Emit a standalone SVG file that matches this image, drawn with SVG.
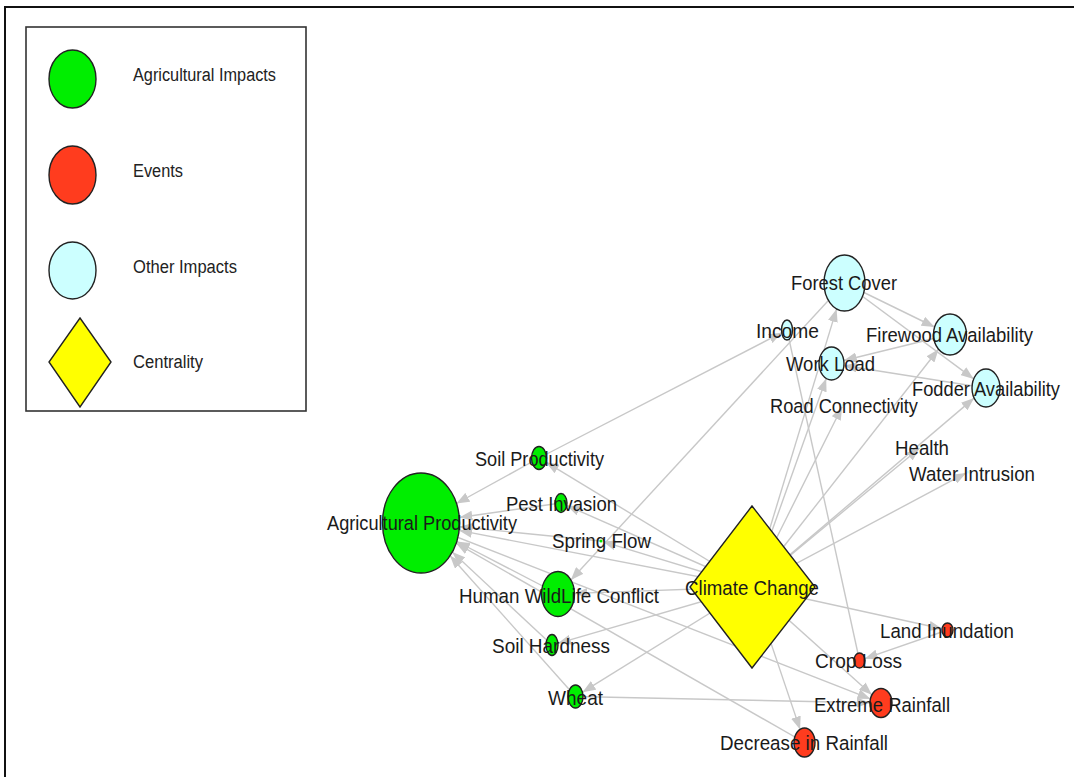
<svg xmlns="http://www.w3.org/2000/svg" width="1074" height="777" viewBox="0 0 1074 777">
<defs>
<style>
.e{stroke:#c8c8c8;stroke-width:1.4;fill:none;marker-end:url(#ah)}
.en{stroke:#c8c8c8;stroke-width:1.4;fill:none}
.n{stroke:#222;stroke-width:1.4}
.ag{fill:#00ee00}
.ev{fill:#ff3c1e}
.ot{fill:#ccffff}
.ce{fill:#ffff00}
.lb{font-family:"Liberation Sans",Arial,sans-serif;font-size:20.5px;fill:#1a1a1a;text-anchor:middle}
.lg{font-family:"Liberation Sans",Arial,sans-serif;font-size:18px;fill:#222}
</style>
<marker id="ah" viewBox="0 0 13 10" refX="13" refY="5" markerWidth="13" markerHeight="10" markerUnits="userSpaceOnUse" orient="auto">
<path d="M0,0 L13,5 L0,10 z" fill="#c8c8c8"/>
</marker>
</defs>
<rect x="0" y="0" width="1074" height="777" fill="#ffffff"/>
<path d="M5,777 L5,7 L1074,7" fill="none" stroke="#111" stroke-width="2"/>

<g id="legend">
<rect x="26" y="27" width="280" height="384" fill="#fff" stroke="#333" stroke-width="1.6"/>
<ellipse class="n ag" cx="72.5" cy="79" rx="23.5" ry="29"/>
<text class="lg" x="133" y="81" textLength="143" lengthAdjust="spacingAndGlyphs">Agricultural Impacts</text>
<ellipse class="n ev" cx="72.5" cy="175" rx="23.5" ry="29"/>
<text class="lg" x="133" y="177" textLength="50" lengthAdjust="spacingAndGlyphs">Events</text>
<ellipse class="n ot" cx="72.5" cy="270.5" rx="23.5" ry="28.5"/>
<text class="lg" x="133" y="273" textLength="104" lengthAdjust="spacingAndGlyphs">Other Impacts</text>
<polygon class="n ce" points="80,318 111,362 80,407 49,362"/>
<text class="lg" x="133" y="368" textLength="70" lengthAdjust="spacingAndGlyphs">Centrality</text>
</g>

<g id="connectors">
<line class="e" x1="539" y1="458" x2="456.4" y2="503.5"/>
<line class="e" x1="539" y1="458" x2="781.7" y2="332.7"/>
<line class="e" x1="561" y1="503" x2="459.3" y2="517.5"/>
<line class="e" x1="752" y1="587" x2="566.8" y2="505.5"/>
<line class="e" x1="752" y1="587" x2="546" y2="462.2"/>
<line class="e" x1="752" y1="587" x2="602.9" y2="541.6"/>
<line class="e" x1="752" y1="587" x2="574.5" y2="593.4"/>
<line class="e" x1="752" y1="587" x2="557.9" y2="643.3"/>
<line class="e" x1="752" y1="587" x2="582.5" y2="692.2"/>
<line class="e" x1="752" y1="587" x2="459.1" y2="530.4"/>
<line class="e" x1="601" y1="541" x2="459.4" y2="526.8"/>
<line class="e" x1="558" y1="594" x2="456.8" y2="541.5"/>
<line class="e" x1="552" y1="645" x2="452.3" y2="552.1"/>
<line class="e" x1="575.5" y1="696.5" x2="450.1" y2="555.7"/>
<line class="e" x1="804.5" y1="742.5" x2="456.2" y2="543.2"/>
<line class="e" x1="421" y1="523" x2="870.5" y2="698.9"/>
<line class="e" x1="752" y1="587" x2="871.9" y2="694.8"/>
<line class="e" x1="752" y1="587" x2="800.1" y2="729.4"/>
<line class="e" x1="575.5" y1="696.5" x2="870" y2="702.8"/>
<line class="e" x1="752" y1="587" x2="942.1" y2="628.8"/>
<line class="e" x1="947.5" y1="630" x2="864.8" y2="658.7"/>
<line class="en" x1="787" y1="330" x2="859.5" y2="660.5"/>
<line class="e" x1="844.5" y1="283" x2="570.9" y2="580"/>
<line class="e" x1="752" y1="587" x2="836.6" y2="308.9"/>
<line class="e" x1="752" y1="587" x2="826.2" y2="378.4"/>
<line class="e" x1="752" y1="587" x2="842.1" y2="406.8"/>
<line class="e" x1="752" y1="587" x2="938.5" y2="349.2"/>
<line class="e" x1="752" y1="587" x2="974.1" y2="398.1"/>
<line class="e" x1="752" y1="587" x2="919.5" y2="448.3"/>
<line class="e" x1="752" y1="587" x2="966.2" y2="472.9"/>
<line class="e" x1="844.5" y1="283" x2="934.6" y2="327"/>
<line class="e" x1="844.5" y1="283" x2="973.7" y2="378.9"/>
<line class="e" x1="950" y1="334.5" x2="843.8" y2="360.5"/>
<line class="e" x1="986" y1="388" x2="843.9" y2="365.5"/>
</g>

<g id="node-agricultural-productivity"><ellipse class="n ag" cx="421" cy="523" rx="38.5" ry="50"/><text class="lb" x="422" y="530" textLength="190" lengthAdjust="spacingAndGlyphs">Agricultural Productivity</text></g>
<g id="node-soil-productivity"><ellipse class="n ag" cx="539" cy="458" rx="7.5" ry="11.5"/><text class="lb" x="539.5" y="466" textLength="129" lengthAdjust="spacingAndGlyphs">Soil Productivity</text></g>
<g id="node-pest-invasion"><ellipse class="n ag" cx="561" cy="503" rx="6" ry="9.5"/><text class="lb" x="561.5" y="511" textLength="111" lengthAdjust="spacingAndGlyphs">Pest Invasion</text></g>
<g id="node-spring-flow"><ellipse class="ag" cx="601" cy="541" rx="1.5" ry="1.5"/><text class="lb" x="601.5" y="548" textLength="99" lengthAdjust="spacingAndGlyphs">Spring Flow</text></g>
<g id="node-human-wildlife-conflict"><ellipse class="n ag" cx="558" cy="594" rx="16.5" ry="22.5"/><text class="lb" x="559" y="603" textLength="200" lengthAdjust="spacingAndGlyphs">Human WildLife Conflict</text></g>
<g id="node-soil-hardness"><ellipse class="n ag" cx="552" cy="645" rx="6" ry="10.5"/><text class="lb" x="551" y="653" textLength="118" lengthAdjust="spacingAndGlyphs">Soil Hardness</text></g>
<g id="node-wheat"><ellipse class="n ag" cx="575.5" cy="696.5" rx="7.5" ry="11.5"/><text class="lb" x="575.5" y="705" textLength="55" lengthAdjust="spacingAndGlyphs">Wheat</text></g>
<g id="node-climate-change"><polygon class="n ce" points="752,506 815,587 752,668 690,587"/><text class="lb" x="752" y="595" textLength="134" lengthAdjust="spacingAndGlyphs">Climate Change</text></g>
<g id="node-land-inundation"><ellipse class="n ev" cx="947.5" cy="630" rx="5.5" ry="7"/><text class="lb" x="947" y="638" textLength="134" lengthAdjust="spacingAndGlyphs">Land Inundation</text></g>
<g id="node-crop-loss"><ellipse class="n ev" cx="859.5" cy="660.5" rx="5.5" ry="7.5"/><text class="lb" x="858.5" y="668" textLength="87" lengthAdjust="spacingAndGlyphs">Crop Loss</text></g>
<g id="node-extreme-rainfall"><ellipse class="n ev" cx="881" cy="703" rx="11" ry="14.5"/><text class="lb" x="882" y="712" textLength="136" lengthAdjust="spacingAndGlyphs">Extreme Rainfall</text></g>
<g id="node-decrease-in-rainfall"><ellipse class="n ev" cx="804.5" cy="742.5" rx="10.5" ry="14.5"/><text class="lb" x="804" y="750" textLength="168" lengthAdjust="spacingAndGlyphs">Decrease in Rainfall</text></g>
<g id="node-forest-cover"><ellipse class="n ot" cx="844.5" cy="283" rx="20.5" ry="28"/><text class="lb" x="844" y="290" textLength="106" lengthAdjust="spacingAndGlyphs">Forest Cover</text></g>
<g id="node-income"><ellipse class="n ot" cx="787" cy="330" rx="5.5" ry="10"/><text class="lb" x="787.5" y="338" textLength="63" lengthAdjust="spacingAndGlyphs">Income</text></g>
<g id="node-firewood-availability"><ellipse class="n ot" cx="950" cy="334.5" rx="16.5" ry="20.5"/><text class="lb" x="949.5" y="342" textLength="167" lengthAdjust="spacingAndGlyphs">Firewood Availability</text></g>
<g id="node-work-load"><ellipse class="n ot" cx="831.5" cy="363.5" rx="12.5" ry="16.5"/><text class="lb" x="830.5" y="371" textLength="89" lengthAdjust="spacingAndGlyphs">Work Load</text></g>
<g id="node-fodder-availability"><ellipse class="n ot" cx="986" cy="388" rx="14" ry="19"/><text class="lb" x="986" y="396" textLength="148" lengthAdjust="spacingAndGlyphs">Fodder Availability</text></g>
<g id="node-road-connectivity"><ellipse class="ot" cx="843" cy="405" rx="1.5" ry="1.5"/><text class="lb" x="844" y="413" textLength="148" lengthAdjust="spacingAndGlyphs">Road Connectivity</text></g>
<g id="node-health"><ellipse class="ot" cx="921" cy="447" rx="1.5" ry="1.5"/><text class="lb" x="922" y="455" textLength="54" lengthAdjust="spacingAndGlyphs">Health</text></g>
<g id="node-water-intrusion"><ellipse class="ot" cx="968" cy="472" rx="1.5" ry="1.5"/><text class="lb" x="972" y="481" textLength="126" lengthAdjust="spacingAndGlyphs">Water Intrusion</text></g>
</svg>
